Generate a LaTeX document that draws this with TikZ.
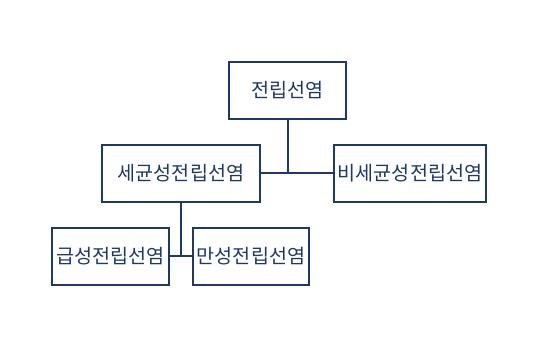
\documentclass[tikz,border=0pt]{standalone}
\usepackage{fontspec}
\newfontfamily\kr{Noto Sans CJK KR}
\definecolor{navy}{HTML}{1F3864}
\begin{document}
\begin{tikzpicture}[x=1pt,y=-1pt,
  box/.style={draw=navy,line width=2pt,inner sep=0pt,text=navy,font=\kr\fontsize{19.6}{22}\selectfont},
  conn/.style={draw=navy,line width=2pt}]
\useasboundingbox (0,0) rectangle (542,342);
\node[box,minimum width=117pt,minimum height=57pt] (root) at (287.5,90.5) {전립선염};
\node[box,minimum width=158pt,minimum height=57pt] (bac) at (181,173.5) {세균성전립선염};
\node[box,minimum width=152pt,minimum height=57pt] (nonbac) at (410,173.5) {비세균성전립선염};
\node[box,minimum width=117pt,minimum height=57pt] (acute) at (110.5,256.5) {급성전립선염};
\node[box,minimum width=116pt,minimum height=57pt] (chronic) at (251,256.5) {만성전립선염};
\coordinate (j1) at (root.south |- bac.east);
\coordinate (j2) at (bac.south |- acute.east);
\draw[conn] (root.south) -- (j1);
\draw[conn] (bac.east) -- (nonbac.west);
\draw[conn] (bac.south) -- (j2);
\draw[conn] (acute.east) -- (chronic.west);
\end{tikzpicture}
\end{document}
